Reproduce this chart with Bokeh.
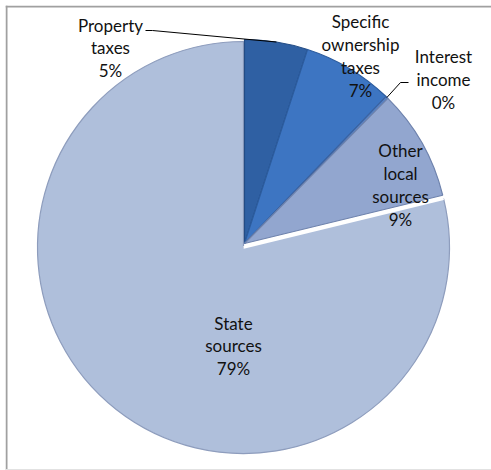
import math
from bokeh.plotting import figure
from bokeh.models import ColumnDataSource, Range1d, Span
from bokeh.core.properties import value
from bokeh.embed import file_html
from bokeh.resources import INLINE

# ---- data ----
categories = ["Property taxes", "Specific ownership taxes", "Interest income",
              "Other local sources", "State sources"]
label_text = ["Property\ntaxes", "Specific\nownership\ntaxes", "Interest\nincome",
              "Other\nlocal\nsources", "State\nsources"]
shares = [5.0, 7.2, 0.2, 8.8, 78.8]          # percent
pct_labels = ["5%", "7%", "0%", "9%", "79%"]

# ---- styles / layout ----
colors = ["#2f60a3", "#3d75c2", "#5b86c8", "#92a6cf", "#afbfdb"]
edge_colors = ["#234c85", "#2c5c9e", "#3d63a0", "#6f83ad", "#8e9dbd"]
center = (244, -243)
radius = 204
state_center = (243, -247)
state_radius = 206
label_pos = [(110, -47.5), (360, -55.5), (443, -79), (400, -184.5), (233, -345.5)]

total = sum(shares)
cum = [0.0]
for s in shares:
    cum.append(cum[-1] + s / total)
start = [math.pi / 2 - 2 * math.pi * c for c in cum[:-1]]
end = [math.pi / 2 - 2 * math.pi * c for c in cum[1:]]

xs = [center[0]] * 4 + [state_center[0]]
ys = [center[1]] * 4 + [state_center[1]]
rs = [radius] * 4 + [state_radius]

p = figure(width=491, height=470, output_backend="svg", toolbar_location=None,
           x_range=Range1d(5, 491), y_range=Range1d(-470, -5),
           min_border_left=5, min_border_top=5, min_border_right=0, min_border_bottom=0)
p.axis.visible = False
p.grid.visible = False
p.outline_line_color = None
p.background_fill_color = "white"
p.border_fill_color = "white"
p.add_layout(Span(location=6, dimension="height", line_color="#a0a0a0", line_width=2))
p.add_layout(Span(location=-6, dimension="width", line_color="#a0a0a0", line_width=2))
p.add_layout(Span(location=-469, dimension="width", line_color="#e2e2e2", line_width=1))

# draw state first so the local slices overlap it
order = [4, 0, 1, 2, 3]
src = ColumnDataSource(dict(
    x=[xs[i] for i in order], y=[ys[i] for i in order], r=[rs[i] for i in order],
    s=[start[i] for i in order], e=[end[i] for i in order],
    c=[colors[i] for i in order], lc=[edge_colors[i] for i in order],
))
p.wedge(x="x", y="y", radius="r", start_angle="s", end_angle="e", direction="clock",
        fill_color="c", line_color="lc", line_width=1.2, source=src)

# white highlight along the state slice's top edge
p.segment(x0=[state_center[0]], y0=[state_center[1]],
          x1=[state_center[0] + state_radius * math.cos(start[4])],
          y1=[state_center[1] + state_radius * math.sin(start[4])],
          line_color="white", line_width=2.5)

# leader lines
def arc_mid(i):
    a = (start[i] + end[i]) / 2
    return center[0] + radius * math.cos(a), center[1] + radius * math.sin(a)

mx0, my0 = arc_mid(0)
mx2, my2 = arc_mid(2)
p.line(x=[145, 152, mx0], y=[-30, -30, my0], line_color="black", line_width=1)
p.line(x=[408, 400, mx2], y=[-82, -82, my2], line_color="black", line_width=1)

lbl = ColumnDataSource(dict(
    x=[lp[0] for lp in label_pos], y=[lp[1] for lp in label_pos],
    t=[label_text[i] + "\n" + pct_labels[i] for i in range(len(categories))],
))
p.text(x="x", y="y", text="t", source=lbl, text_align="center", text_baseline="middle",
       text_font=value("Lato"), text_font_size="17px", text_color="#111111",
       text_line_height=1.08)

open("out.html", "w").write(file_html(p, INLINE))
